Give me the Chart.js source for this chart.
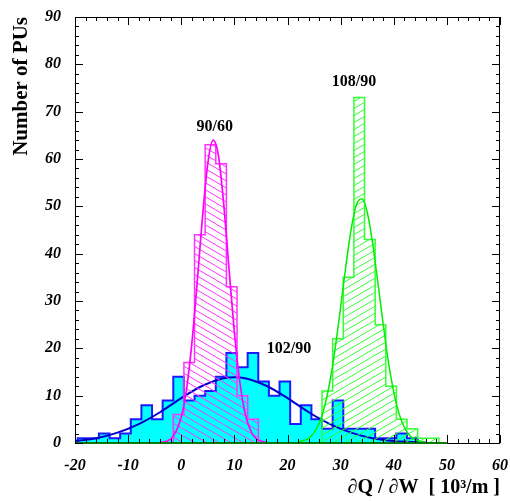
<!DOCTYPE html>
<html>
<head>
<meta charset="utf-8">
<script src="https://cdn.jsdelivr.net/npm/chart.js@4.4.0/dist/chart.umd.min.js"></script>
<style>
  html, body { margin: 0; padding: 0; background: #fff; }
  canvas { display: block; }
</style>
</head>
<body>
<canvas id="puChart" width="510" height="501"></canvas>
<script>
// ширина бина гистограмм
const binWidth = 2;

// 102/90 — голубая гистограмма
const cyanStart = -19.5;
const cyanCounts = [1, 1, 2, 1, 2, 5, 8, 5, 9, 14, 9, 10, 11, 14, 19, 16, 19, 13, 10, 13,
                    4, 8, 5, 3, 9, 3, 3, 3, 1, 1, 2, 1];

// 90/60 — пурпурная гистограмма
const magentaStart = -1.5;
const magentaCounts = [6, 17, 44, 63, 59, 33, 10, 5];

// 108/90 — зелёная гистограмма
const greenStart = 26.5;
const greenCounts = [11, 22, 35, 73, 43, 25, 12, 5, 3, 1, 1];

// Кривые фитов (точки)
const blueFitX = [-20, -16, -12, -8, -4, 0, 4, 8, 10, 12, 16, 20, 24, 28, 32, 36, 40, 44, 46];
const blueFitY = [0.4, 1.0, 2.2, 4.0, 6.5, 9.5, 12.1, 13.7, 13.9, 13.7, 12.1, 9.5, 6.5, 4.0, 2.2, 1.0, 0.4, 0.2, 0.1];

const magentaFitX = [-4, -2, 0, 1, 2, 3, 4, 5, 6, 7, 8, 9, 10, 11, 12, 13, 14, 16];
const magentaFitY = [0.1, 0.8, 5.5, 11.4, 21.1, 33.9, 47.8, 59.1, 64.0, 60.7, 50.4, 36.7, 23.4, 13.1, 6.4, 2.8, 1.0, 0.1];

const greenFitX = [22, 24, 25, 26, 27, 28, 29, 30, 31, 32, 33, 34, 35, 36, 37, 38, 39, 40, 41, 42, 43, 44, 46];
const greenFitY = [0.2, 1.0, 2.2, 4.3, 7.8, 13.1, 20.2, 28.7, 37.5, 45.3, 50.4, 51.6, 48.8, 42.4, 34.0, 25.2, 17.1, 10.8, 6.2, 3.3, 1.6, 0.7, 0.1];

// Подписи пиков
const peakTags = [
  { text: '90/60', x: 6.3, y: 66.8 },
  { text: '108/90', x: 32.5, y: 76.3 },
  { text: '102/90', x: 20.3, y: 19.9 }
];

const xTicksMin = -20, xTicksMax = 60;
const yTicksMin = 0, yTicksMax = 90;

const serif = '"Liberation Serif", "Times New Roman", serif';

// гистограмма -> точки для ступенчатой линии
function histPoints(start, counts) {
  const pts = [{ x: start, y: 0 }];
  counts.forEach((c, i) => pts.push({ x: start + i * binWidth, y: c }));
  pts.push({ x: start + counts.length * binWidth, y: 0 });
  return pts;
}

function curvePoints(xs, ys) {
  return xs.map((x, i) => ({ x, y: ys[i] }));
}

// штриховка
function makeHatch(color, dir) {
  const w = 12, h = 7;
  const c = document.createElement('canvas');
  c.width = w; c.height = h;
  const g = c.getContext('2d');
  g.strokeStyle = color;
  g.lineWidth = 1;
  for (let k = -1; k <= 1; k++) {
    g.beginPath();
    if (dir === 'down') {
      g.moveTo(-1, k * h - h / w);
      g.lineTo(w + 1, k * h + h + h / w);
    } else {
      g.moveTo(-1, h + h / w + k * h);
      g.lineTo(w + 1, -h / w + k * h);
    }
    g.stroke();
  }
  return g.createPattern(c, 'repeat');
}

// рамка и засечки как в ROOT
const framePlugin = {
  id: 'rootFrame',
  afterDatasetsDraw(chart) {
    const { ctx, chartArea: a, scales: { x, y } } = chart;
    ctx.save();
    ctx.lineWidth = 1;
    ctx.strokeStyle = '#000';
    ctx.beginPath();
    ctx.moveTo(a.left + 0.5, a.bottom + 0.5);
    ctx.lineTo(a.left + 0.5, a.top + 0.5);
    ctx.lineTo(a.right - 0.5, a.top + 0.5);
    ctx.lineTo(a.right - 0.5, a.bottom + 0.5);
    ctx.stroke();

    // нижняя линия
    const x50 = x.getPixelForValue(50);
    ctx.beginPath();
    ctx.strokeStyle = '#0a7a0a';
    ctx.lineWidth = 2;
    ctx.moveTo(a.left, a.bottom);
    ctx.lineTo(x50, a.bottom);
    ctx.stroke();
    ctx.beginPath();
    ctx.strokeStyle = '#000';
    ctx.lineWidth = 1;
    ctx.moveTo(x50, a.bottom + 0.5);
    ctx.lineTo(a.right, a.bottom + 0.5);
    ctx.stroke();

    ctx.beginPath();
    ctx.strokeStyle = '#000';
    for (let v = xTicksMin; v <= xTicksMax; v += 2) {
      const px = Math.round(x.getPixelForValue(v)) + 0.5;
      const len = v % 10 === 0 ? 8 : 4;
      ctx.moveTo(px, a.bottom); ctx.lineTo(px, a.bottom - len);
      ctx.moveTo(px, a.top); ctx.lineTo(px, a.top + len);
    }
    for (let v = yTicksMin; v <= yTicksMax; v += 2) {
      const py = Math.round(y.getPixelForValue(v)) + 0.5;
      const len = v % 10 === 0 ? 8 : 4;
      ctx.moveTo(a.left, py); ctx.lineTo(a.left + len, py);
      ctx.moveTo(a.right, py); ctx.lineTo(a.right - len, py);
    }
    ctx.stroke();
    ctx.restore();
  }
};

const tagPlugin = {
  id: 'peakTags',
  afterDatasetsDraw(chart) {
    const { ctx, scales: { x, y } } = chart;
    ctx.save();
    ctx.font = 'bold 16px ' + serif;
    ctx.fillStyle = '#000';
    ctx.textAlign = 'center';
    ctx.textBaseline = 'middle';
    peakTags.forEach(t => ctx.fillText(t.text, x.getPixelForValue(t.x), y.getPixelForValue(t.y)));
    ctx.restore();
  }
};

const canvas = document.getElementById('puChart');
const ctx = canvas.getContext('2d');

new Chart(ctx, {
  type: 'line',
  data: {
    datasets: [
      {
        data: histPoints(cyanStart, cyanCounts),
        stepped: 'before',
        borderColor: '#1a1aff',
        borderWidth: 2,
        backgroundColor: '#00ffff',
        fill: 'origin',
        order: 6
      },
      {
        data: curvePoints(blueFitX, blueFitY),
        borderColor: '#0000cc',
        borderWidth: 2,
        cubicInterpolationMode: 'monotone',
        fill: false,
        order: 5
      },
      {
        data: histPoints(magentaStart, magentaCounts),
        stepped: 'before',
        borderColor: '#ff33ff',
        borderWidth: 1.5,
        backgroundColor: makeHatch('#ff33ff', 'down'),
        fill: 'origin',
        order: 4
      },
      {
        data: curvePoints(magentaFitX, magentaFitY),
        borderColor: '#ff00ff',
        borderWidth: 1.7,
        cubicInterpolationMode: 'monotone',
        fill: false,
        order: 3
      },
      {
        data: histPoints(greenStart, greenCounts),
        stepped: 'before',
        borderColor: '#33ff33',
        borderWidth: 1.5,
        backgroundColor: makeHatch('#33ff33', 'up'),
        fill: 'origin',
        order: 2
      },
      {
        data: curvePoints(greenFitX, greenFitY),
        borderColor: '#00ee00',
        borderWidth: 1.5,
        cubicInterpolationMode: 'monotone',
        fill: false,
        order: 1
      }
    ]
  },
  options: {
    responsive: false,
    animation: false,
    devicePixelRatio: 1,
    layout: { padding: { top: 17, right: 10, left: 0, bottom: 0 } },
    elements: { point: { radius: 0 } },
    plugins: {
      legend: { display: false },
      tooltip: { enabled: false }
    },
    scales: {
      x: {
        type: 'linear',
        min: xTicksMin,
        max: xTicksMax,
        afterFit: s => { s.height = 58; s.paddingLeft = 0; s.paddingRight = 0; },
        grid: { display: false, drawTicks: false },
        border: { display: false },
        ticks: {
          stepSize: 10,
          padding: 13,
          color: '#000',
          font: { family: serif, size: 16, weight: 'bold', style: 'italic' }
        },
        title: {
          display: true,
          text: '\u2202Q / \u2202W  [ 10\u00b3/m ]',
          align: 'end',
          color: '#000',
          padding: { top: 0, bottom: 1 },
          font: { family: serif, size: 20, weight: 'bold' }
        }
      },
      y: {
        min: yTicksMin,
        max: yTicksMax,
        afterFit: s => { s.width = 75; s.paddingTop = 0; s.paddingBottom = 0; },
        grid: { display: false, drawTicks: false },
        border: { display: false },
        ticks: {
          stepSize: 10,
          padding: 14,
          color: '#000',
          font: { family: serif, size: 16, weight: 'bold', style: 'italic' }
        },
        title: {
          display: true,
          text: 'Number of PUs',
          align: 'end',
          color: '#000',
          padding: { top: 9, bottom: 0 },
          font: { family: serif, size: 21, weight: 'bold' }
        }
      }
    }
  },
  plugins: [framePlugin, tagPlugin]
});
</script>
</body>
</html>
